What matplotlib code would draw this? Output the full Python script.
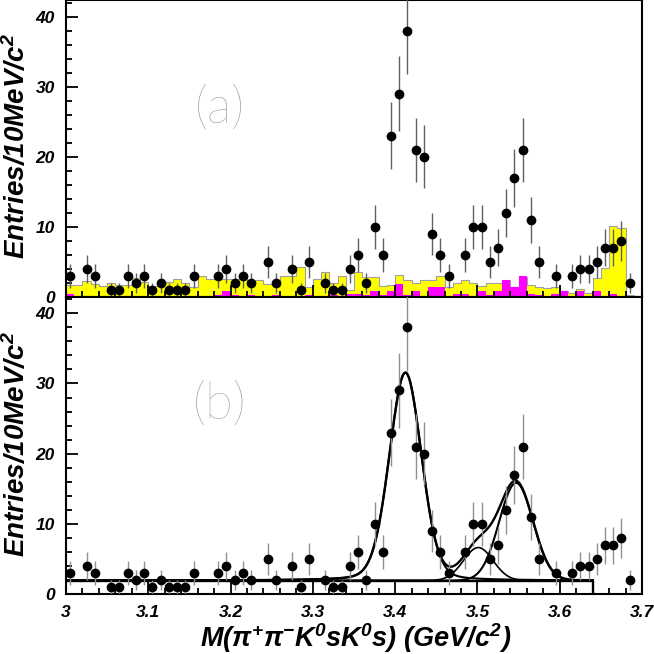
import numpy as np
import matplotlib
matplotlib.use('Agg')
import matplotlib.pyplot as plt
from matplotlib.ticker import MultipleLocator

# 70 bins of 10 MeV between 3.0 and 3.7 GeV
mass_lo, mass_hi, n_bins = 3.0, 3.7, 70

# data entries per bin (0 = empty bin, not drawn)
counts = [3, 0, 4, 3, 0, 1, 1, 3, 2, 3,
          1, 2, 1, 1, 1, 3, 0, 0, 3, 4,
          2, 3, 2, 0, 5, 2, 0, 4, 1, 5,
          0, 2, 1, 1, 4, 6, 2, 10, 6, 23,
          29, 38, 21, 20, 9, 6, 3, 0, 6, 10,
          10, 5, 7, 12, 17, 21, 11, 5, 0, 3,
          0, 3, 4, 4, 5, 7, 7, 8, 2, 0]

# yellow and magenta background histograms (panel a)
yellow_bkg = [1.7, 1.7, 2.3, 1.8, 1.5, 2.0, 1.7, 1.7, 2.7, 2.2,
              1.5, 2.2, 2.2, 2.5, 2.0, 1.4, 3.0, 2.6, 2.5, 2.5,
              2.6, 2.5, 2.3, 2.4, 1.8, 1.8, 3.0, 3.0, 4.3, 1.4,
              2.6, 3.5, 2.0, 3.0, 1.0, 3.5, 2.8, 2.8, 1.5, 1.7,
              3.2, 2.4, 2.0, 2.4, 2.4, 3.0, 1.4, 1.95, 2.4, 1.95,
              1.5, 1.95, 1.95, 2.4, 1.4, 2.9, 1.7, 1.4, 1.3, 1.4,
              0.9, 0.5, 1.1, 0.6, 2.7, 4.1, 10.1, 9.8, 0.3, 0.15]
magenta_bkg = [0.4, 0, 0, 0, 0, 0, 0, 0, 0, 0,
               0, 0, 0, 0, 0, 0, 0, 0, 0.35, 0.85,
               0.35, 0, 0.35, 0, 0, 0.35, 0, 0, 0, 0.35,
               0, 0, 0.35, 0, 0.4, 0.4, 0.3, 0.85, 0.3, 0.85,
               1.9, 0.25, 0.85, 0.1, 1.4, 1.4, 0, 0.4, 0.4, 0.1,
               0.85, 0.3, 0.85, 2.4, 1.4, 2.95, 0.4, 0.25, 0, 0.4,
               0.85, 0, 0.85, 0, 0.85, 0, 0.4, 0, 0, 0]

# fit result (panel b): flat background + three resonances
bg_level = 1.95
fit_end = 3.64
chic0_mass, chic0_amp, chic0_fwhm, chic0_eta = 3.4125, 29.6, 0.046, 0.15
chic1_mass, chic1_amp, chic1_sigma = 3.501, 4.7, 0.018
chic2_mass, chic2_amp, chic2_sigma = 3.547, 13.9, 0.0205

xtick_pos = [3.0, 3.1, 3.2, 3.3, 3.4, 3.5, 3.6, 3.7]
xtick_labels = ['3', '3.1', '3.2', '3.3', '3.4', '3.5', '3.6', '3.7']
ytick_pos = [0, 10, 20, 30, 40]

plt.rcParams['font.family'] = ['Liberation Sans', 'DejaVu Sans']
plt.rcParams['font.weight'] = 'bold'
plt.rcParams['font.style'] = 'italic'
plt.rcParams['mathtext.fontset'] = 'custom'
plt.rcParams['mathtext.rm'] = 'Liberation Sans:bold:italic'
plt.rcParams['mathtext.it'] = 'Liberation Sans:bold:italic'
plt.rcParams['mathtext.bf'] = 'Liberation Sans:bold:italic'


def gauss(x, m, a, s):
    return a * np.exp(-0.5 * ((x - m) / s) ** 2)


def pseudo_voigt(x, m, a, fwhm, eta):
    s = fwhm / 2.3548
    lor = 1.0 / (1.0 + ((x - m) / (fwhm / 2)) ** 2)
    return a * (eta * lor + (1 - eta) * np.exp(-0.5 * ((x - m) / s) ** 2))


edges = np.linspace(mass_lo, mass_hi, n_bins + 1)
centers = 0.5 * (edges[:-1] + edges[1:])
counts = np.array(counts, dtype=float)
filled = counts > 0

fig = plt.figure(figsize=(6.54, 6.54), dpi=100)
ax_a = fig.add_axes([66 / 654, 1 - 297 / 654, 576 / 654, 297 / 654])
ax_b = fig.add_axes([66 / 654, 1 - 594.3 / 654, 576 / 654, 297.3 / 654])

# --- panel (a): data with background histograms ---
ax_a.stairs(yellow_bkg, edges, fill=True, facecolor='#ffff00',
            edgecolor='none', zorder=1)
ax_a.stairs(yellow_bkg, edges, color='#a0a0a0', lw=0.8, zorder=1.1)
ax_a.stairs(magenta_bkg, edges, fill=True, facecolor='#ff00ff',
            edgecolor='none', zorder=1.2)

# --- panel (b): data with fit ---
xf = np.linspace(mass_lo, fit_end, 600)
c0 = pseudo_voigt(xf, chic0_mass, chic0_amp, chic0_fwhm, chic0_eta)
c1 = gauss(xf, chic1_mass, chic1_amp, chic1_sigma)
c2 = gauss(xf, chic2_mass, chic2_amp, chic2_sigma)
ax_b.plot(xf, bg_level + c0, color='black', lw=1.5)
ax_b.plot(xf, bg_level + c1, color='black', lw=1.2)
ax_b.plot(xf, bg_level + c2, color='black', lw=1.5)
ax_b.plot(xf, bg_level + c0 + c1 + c2, color='black', lw=1.7)
ax_b.plot([mass_lo, fit_end, fit_end], [bg_level, bg_level, 0],
          color='black', lw=1.7)

for ax, ecol in ((ax_a, '#606060'), (ax_b, '#909090')):
    ax.errorbar(centers[filled], counts[filled],
                yerr=np.sqrt(counts[filled]), fmt='o', color='black',
                ecolor=ecol, elinewidth=1.0, capsize=0, markersize=6,
                zorder=3)
    ax.set_xlim(mass_lo, mass_hi)
    ax.set_axisbelow(False)
    ax.set_yticks(ytick_pos)
    ax.yaxis.set_minor_locator(MultipleLocator(2))
    ax.xaxis.set_minor_locator(MultipleLocator(0.02))
    ax.tick_params(which='both', direction='in', top=False, right=False,
                   width=1.3, labelsize=12.5)
    ax.tick_params(which='major', length=8.5)
    ax.tick_params(which='minor', length=4.2)
    ax.tick_params(axis='y', pad=8)
    ax.tick_params(axis='x', pad=7.5)
    for sp in ax.spines.values():
        sp.set_linewidth(1.5)
    for lab in ax.get_yticklabels():
        lab.set_fontweight('bold')

ax_a.set_ylim(0, 42.37)
ax_b.set_ylim(0, 42.3)
ax_a.set_xticks(xtick_pos)
ax_a.set_xticklabels([])
ax_b.set_xticks(xtick_pos)
ax_b.set_xticklabels(xtick_labels, fontweight='bold')

# panel tags
for tag, ypix in (('(a)', 108), ('(b)', 404)):
    fig.text(220 / 654, 1 - ypix / 654, tag, ha='center', va='center',
             fontsize=37, color='#8c8c8c', family=['Lato', 'DejaVu Sans'],
             weight=100, style='normal')

# axis titles
ylab = 'Entries/10MeV/c$^{2}$'
fig.text(17 / 654, 1 - 146 / 654, ylab, rotation=90, ha='center',
         va='center', fontsize=20)
fig.text(17 / 654, 1 - 444 / 654, ylab, rotation=90, ha='center',
         va='center', fontsize=20)
fig.text(356 / 654, 1 - 647 / 654,
         'M(\u03c0$^{+}$\u03c0$^{-}$K$^{0}$sK$^{0}$s) (GeV/c$^{2}$)',
         ha='center', va='baseline', fontsize=19.5)

fig.savefig('out.png', dpi=100)
plt.close(fig)
